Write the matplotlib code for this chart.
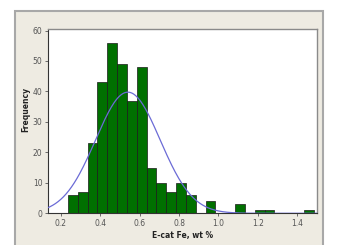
import numpy as np
import matplotlib
matplotlib.use('Agg')
import matplotlib.pyplot as plt
from matplotlib.patches import Rectangle

# histogram of E-cat Fe (wt %), bin width 0.05
bin_centers = [0.26, 0.31, 0.36, 0.41, 0.46, 0.51, 0.56, 0.61, 0.66, 0.71,
               0.76, 0.81, 0.86, 0.91, 0.96, 1.01, 1.06, 1.11, 1.16, 1.21,
               1.26, 1.31, 1.36, 1.41, 1.46]
counts = [6, 7, 23, 43, 56, 49, 37, 48, 15, 10,
          7, 10, 6, 0, 4, 0, 0, 3, 0, 1,
          1, 0, 0, 0, 1]
bin_width = 0.05
# fitted normal
fit_mean = 0.54
fit_sd = 0.164
x_ticks = [0.2, 0.4, 0.6, 0.8, 1.0, 1.2, 1.4]
y_ticks = [0, 10, 20, 30, 40, 50, 60]

fig = plt.figure(figsize=(3.42, 2.45), dpi=100)
fig.patch.set_facecolor('white')

# minitab-like panel behind the plot
bg = fig.add_axes([0, 0, 1, 1], zorder=0)
bg.set_xlim(0, 342)
bg.set_ylim(245, 0)
bg.axis('off')
bg.add_patch(Rectangle((15, 11), 308, 240, facecolor='#eeebe2',
                       edgecolor='#a8a8a8', linewidth=1.5))

ax = fig.add_axes([48/342, 31.7/245, (316.7-48)/342, (213.3-28.7)/245], zorder=1)
ax.set_facecolor('white')

ax.bar(bin_centers, counts, width=bin_width, color='#007000',
       edgecolor='#1a1a1a', linewidth=0.5, zorder=2)

xs = np.linspace(0.13, 1.5, 300)
n = sum(counts)
ys = n * bin_width / (fit_sd * np.sqrt(2 * np.pi)) * np.exp(-0.5 * ((xs - fit_mean) / fit_sd) ** 2)
ax.plot(xs, ys, color='#6b6bd6', linewidth=0.9, zorder=3)

ax.set_xlim(0.134, 1.50)
ax.set_ylim(0, 60.6)
ax.set_xticks(x_ticks)
ax.set_xticklabels(['%.1f' % t for t in x_ticks])
ax.set_yticks(y_ticks)
ax.tick_params(labelsize=5.5, labelcolor='#555555', length=2.5, width=0.6,
               color='#555555', pad=1.5)

for s in ['top', 'right']:
    ax.spines[s].set_color('#8a8a8a')
    ax.spines[s].set_linewidth(1.0)
for s in ['left', 'bottom']:
    ax.spines[s].set_color('#333333')
    ax.spines[s].set_linewidth(0.8)

ax.set_xlabel('E-cat Fe, wt %', fontsize=5.5, fontweight='bold', color='#222222', labelpad=2)
ax.set_ylabel('Frequency', fontsize=5.5, fontweight='bold', color='#222222')
ax.yaxis.set_label_coords(-0.065, 0.56)

fig.savefig('out.png', dpi=100, facecolor=fig.get_facecolor())
